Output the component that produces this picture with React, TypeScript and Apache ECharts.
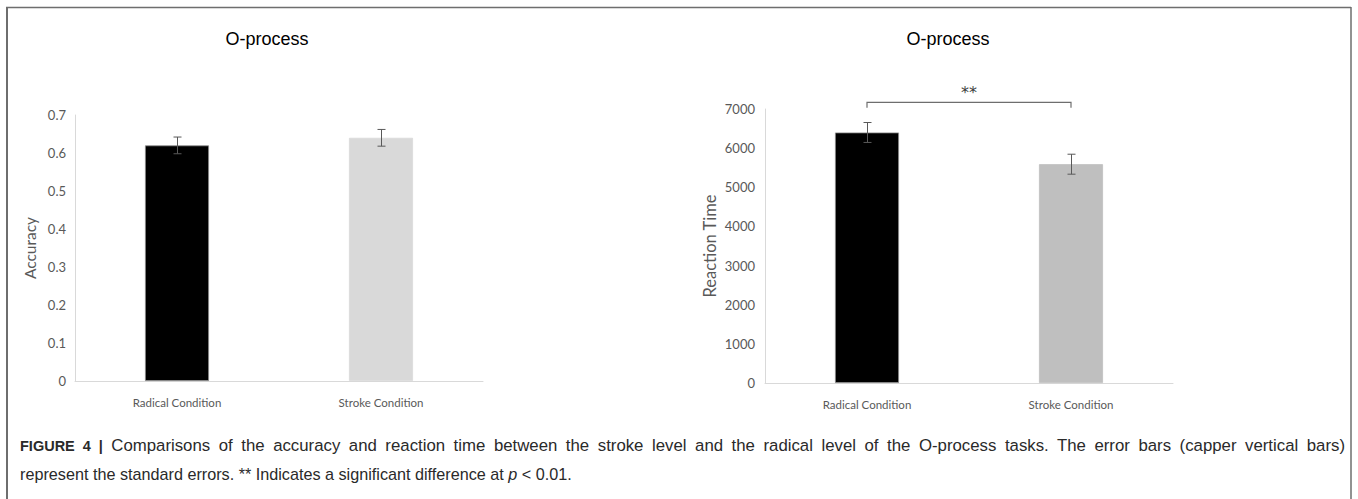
import React, { useEffect, useRef } from "react";
import * as echarts from "echarts";

const categories = ["Radical Condition", "Stroke Condition"];
const accuracyValues = [0.62, 0.64];
const accuracyErrors = [0.022, 0.022];
const rtValues = [6400, 5590];
const rtErrors = [255, 255];
const accuracyTicks = { min: 0, max: 0.7, interval: 0.1 };
const rtTicks = { min: 0, max: 7000, interval: 1000 };
const leftColors = ["#000000", "#d9d9d9"];
const rightColors = ["#000000", "#bfbfbf"];
const bracket = { from: 0, to: 1, y: 7170, tickEnd: 7030, label: "**" };
const chartTitle = "O-process";
const captionBold = "FIGURE 4 |";
const captionLine1 =
  "Comparisons of the accuracy and reaction time between the stroke level and the radical level of the O-process tasks. The error bars (capper vertical bars)";
const captionLine2a = "represent the standard errors. ** Indicates a significant difference at ";
const captionLine2b = "p";
const captionLine2c = " < 0.01.";

const AXIS_FONT = "Lato, 'Open Sans', sans-serif";
const LABEL_COLOR = "#595959";

function errorSeries(gridIndex: number, values: number[], errs: number[]) {
  return {
    type: "custom",
    xAxisIndex: gridIndex,
    yAxisIndex: gridIndex,
    z: 5,
    data: values.map((v, i) => [i, v - errs[i], v + errs[i]]),
    renderItem: (params: any, api: any) => {
      const lo = api.coord([api.value(0), api.value(1)]);
      const hi = api.coord([api.value(0), api.value(2)]);
      const x = Math.round(lo[0]) + 0.5;
      const w = 4;
      const style = { stroke: "#595959", lineWidth: 1 };
      return {
        type: "group",
        children: [
          { type: "line", shape: { x1: x, y1: lo[1], x2: x, y2: hi[1] }, style },
          { type: "line", shape: { x1: x - w, y1: lo[1], x2: x + w, y2: lo[1] }, style },
          { type: "line", shape: { x1: x - w, y1: hi[1], x2: x + w, y2: hi[1] }, style },
        ],
      };
    },
  };
}

export default function App() {
  const ref = useRef<HTMLDivElement>(null);
  useEffect(() => {
    document.body.style.margin = "0";
    const chart = echarts.init(ref.current!, null, { renderer: "svg" });
    const xAxisBase = {
      type: "category",
      data: categories,
      axisTick: { show: false },
      axisLine: { show: true, lineStyle: { color: "#d9d9d9", width: 1 } },
      axisLabel: { color: LABEL_COLOR, fontSize: 11.5, fontFamily: AXIS_FONT, margin: 15 },
    };
    const yAxisBase = {
      type: "value",
      splitLine: { show: false },
      axisTick: { show: false },
      axisLine: { show: true, lineStyle: { color: "#d9d9d9", width: 1 } },
      nameLocation: "middle",
    };
    const titleStyle = { fontFamily: "'Liberation Sans', Arial, sans-serif", fontSize: 18, fontWeight: "normal", color: "#000" };
    chart.setOption({
      animation: false,
      backgroundColor: "#ffffff",
      title: [
        { text: chartTitle, left: 262, top: 25, textAlign: "center", textStyle: titleStyle },
        { text: chartTitle, left: 943, top: 25, textAlign: "center", textStyle: titleStyle },
      ],
      grid: [
        { left: 75, right: 875, top: 115, bottom: 118 },
        { left: 765, right: 185, top: 109, bottom: 116 },
      ],
      xAxis: [
        { ...xAxisBase, gridIndex: 0 },
        { ...xAxisBase, gridIndex: 1 },
      ],
      yAxis: [
        {
          ...yAxisBase,
          gridIndex: 0,
          ...accuracyTicks,
          name: "Accuracy",
          nameGap: 37,
          nameTextStyle: { color: LABEL_COLOR, fontSize: 15.5, fontFamily: AXIS_FONT },
          axisLabel: { color: LABEL_COLOR, fontSize: 13, fontFamily: AXIS_FONT, margin: 9, formatter: (v: number) => String(Math.round(v * 10) / 10) },
        },
        {
          ...yAxisBase,
          gridIndex: 1,
          ...rtTicks,
          name: "Reaction Time",
          nameGap: 47,
          nameTextStyle: { color: LABEL_COLOR, fontSize: 16.5, fontFamily: AXIS_FONT },
          axisLabel: { color: LABEL_COLOR, fontSize: 13, fontFamily: AXIS_FONT, margin: 10, formatter: (v: number) => String(v) },
        },
      ],
      series: [
        {
          type: "bar",
          xAxisIndex: 0,
          yAxisIndex: 0,
          barWidth: 64,
          data: accuracyValues.map((v, i) => ({
            value: v,
            itemStyle: { color: leftColors[i], borderColor: i === 0 ? "#8c8c8c" : leftColors[i], borderWidth: 0.8 },
          })),
        },
        errorSeries(0, accuracyValues, accuracyErrors),
        {
          type: "bar",
          xAxisIndex: 1,
          yAxisIndex: 1,
          barWidth: 64,
          data: rtValues.map((v, i) => ({
            value: v,
            itemStyle: { color: rightColors[i], borderColor: i === 0 ? "#8c8c8c" : rightColors[i], borderWidth: 0.8 },
          })),
        },
        errorSeries(1, rtValues, rtErrors),
        {
          type: "custom",
          xAxisIndex: 1,
          yAxisIndex: 1,
          clip: false,
          z: 6,
          data: [[bracket.from, bracket.to, bracket.y, bracket.tickEnd]],
          renderItem: (params: any, api: any) => {
            const a = api.coord([api.value(0), api.value(2)]);
            const b = api.coord([api.value(1), api.value(2)]);
            const aEnd = api.coord([api.value(0), api.value(3)]);
            const style = { stroke: "#6e6e6e", lineWidth: 1.2, fill: "none" };
            return {
              type: "group",
              children: [
                {
                  type: "polyline",
                  shape: { points: [[a[0], aEnd[1]], [a[0], a[1]], [b[0], b[1]], [b[0], aEnd[1]]] },
                  style,
                },
                {
                  type: "text",
                  x: (a[0] + b[0]) / 2,
                  y: a[1] - 10,
                  style: { text: bracket.label, fill: "#404040", font: "16px 'DejaVu Sans', sans-serif", align: "center", verticalAlign: "middle" },
                },
              ],
            };
          },
        },
      ],
      graphic: [
        { type: "line", shape: { x1: 6, y1: 7.5, x2: 1351, y2: 7.5 }, style: { stroke: "#6e6e6e", lineWidth: 1.5 } },
        { type: "line", shape: { x1: 7, y1: 7, x2: 7, y2: 499 }, style: { stroke: "#6e6e6e", lineWidth: 2 } },
        { type: "line", shape: { x1: 1351, y1: 7, x2: 1351, y2: 499 }, style: { stroke: "#6e6e6e", lineWidth: 1.5 } },
      ],
    });
    return () => chart.dispose();
  }, []);
  const captionFont = "'Liberation Sans', Arial, sans-serif";
  const lineStyle: React.CSSProperties = {
    fontFamily: captionFont,
    fontSize: 16.8,
    lineHeight: "28px",
    color: "#2a2a2a",
    whiteSpace: "nowrap",
  };
  return (
    <div style={{ position: "relative", width: 1358, height: 499 }}>
      <div ref={ref} style={{ width: 1358, height: 499 }} />
      <div style={{ position: "absolute", left: 20, top: 432, width: 1325 }}>
        <div style={{ ...lineStyle, textAlign: "justify", textAlignLast: "justify" as any, whiteSpace: "normal" }}>
          <span style={{ fontWeight: "bold", fontSize: 14.5, whiteSpace: "nowrap" }}>{captionBold}</span> {captionLine1}
        </div>
        <div style={{ ...lineStyle, fontSize: 16.2 }}>
          {captionLine2a}
          <i>{captionLine2b}</i>
          {captionLine2c}
        </div>
      </div>
    </div>
  );
}
